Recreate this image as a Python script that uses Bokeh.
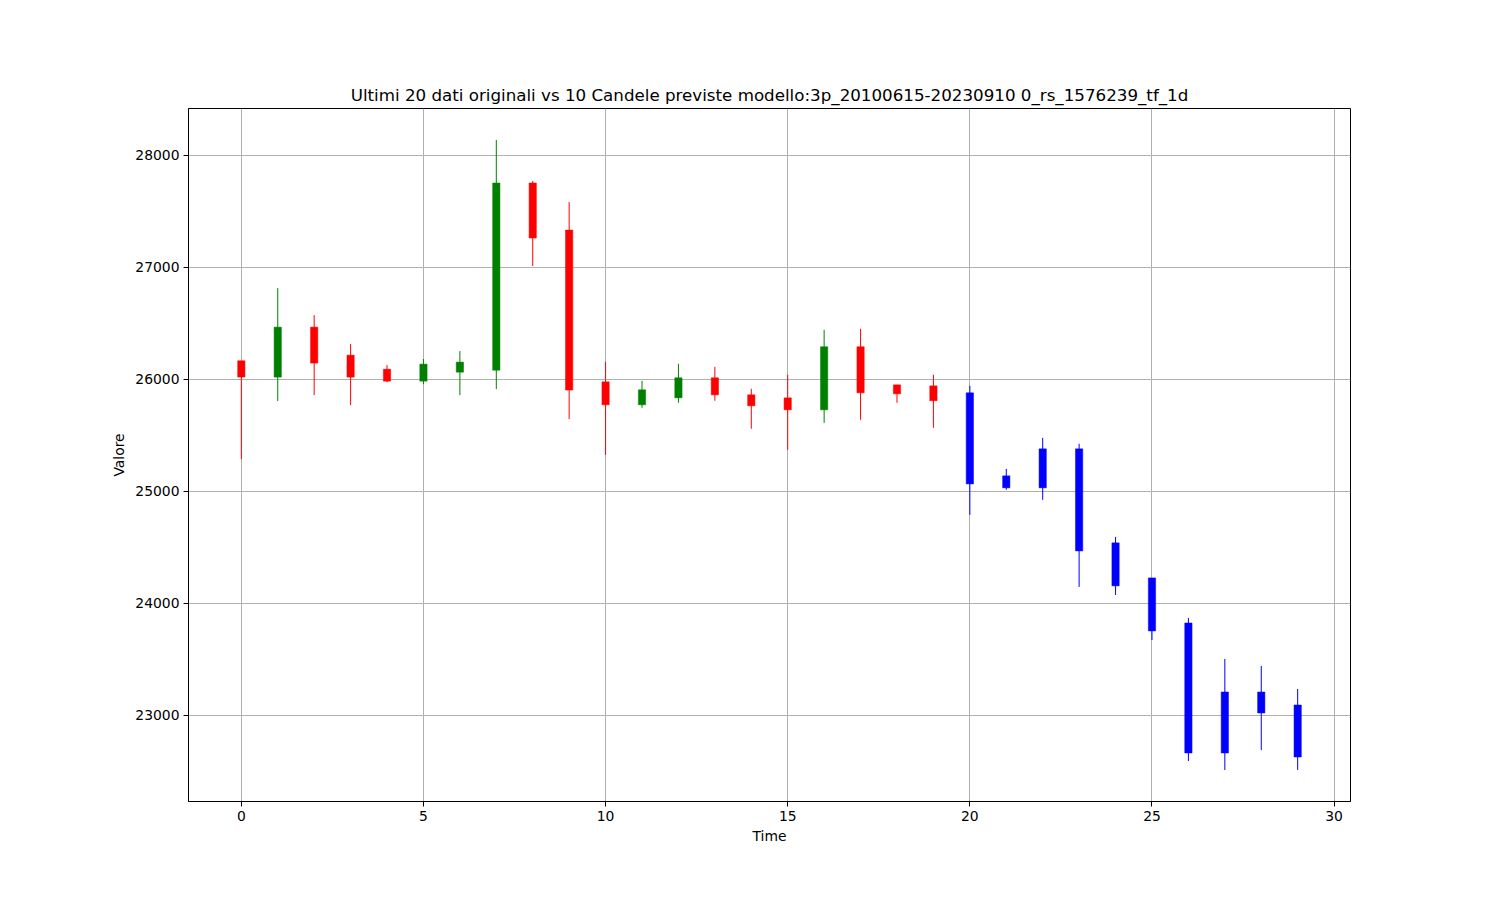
import numpy as np
from bokeh.plotting import figure
from bokeh.models import ColumnDataSource, FixedTicker, Range1d
from bokeh.embed import file_html
from bokeh.resources import INLINE

# ---- data ----
time = list(range(30))
opens = [26164, 26018, 26464, 26214, 26089, 25982, 26062, 26080, 27750, 27330,
         25976, 25771, 25833, 26012, 25860, 25833, 25726, 26289, 25949, 25940,
         25878, 25137, 25378, 25378, 24539, 24226, 23824, 23208, 23208, 23092]
closes = [26018, 26464, 26143, 26018, 25982, 26134, 26152, 27750, 27259, 25902,
          25771, 25905, 26012, 25860, 25762, 25726, 26289, 25878, 25869, 25807,
          25065, 25030, 25030, 24467, 24155, 23753, 22664, 22664, 23021, 22628]
highs = [26164, 26812, 26571, 26313, 26125, 26179, 26250, 28134, 27768, 27580,
         26155, 25985, 26137, 26110, 25914, 26039, 26440, 26449, 25949, 26039,
         25940, 25199, 25476, 25423, 24592, 24226, 23869, 23503, 23440, 23235]
lows = [25286, 25804, 25857, 25768, 25973, 25955, 25857, 25911, 27009, 25643,
        25324, 25744, 25789, 25807, 25557, 25369, 25610, 25637, 25789, 25565,
        24789, 25012, 24923, 24146, 24074, 23673, 22592, 22512, 22690, 22512]
n_original = 20
x_ticks = [0, 5, 10, 15, 20, 25, 30]
y_ticks = [23000, 24000, 25000, 26000, 27000, 28000]

o = np.array(opens, dtype=float)
c = np.array(closes, dtype=float)
colors = []
for i in range(len(time)):
    if i >= n_original:
        colors.append("blue")
    else:
        colors.append("green" if c[i] >= o[i] else "red")

src = ColumnDataSource(dict(
    x=time, top=np.maximum(o, c), bottom=np.minimum(o, c),
    high=highs, low=lows, color=colors))

p = figure(width=1492, height=892, output_backend="svg", toolbar_location=None,
           x_range=Range1d(-1.45, 30.45), y_range=Range1d(22231, 28415),
           min_border_left=188, min_border_right=142, min_border_top=108,
           min_border_bottom=91,
           title="Ultimi 20 dati originali vs 10 Candele previste modello:3p_20100615-20230910 0_rs_1576239_tf_1d")

p.segment(x0="x", y0="low", x1="x", y1="high", color="color", line_width=1, source=src)
p.vbar(x="x", width=0.2, top="top", bottom="bottom", fill_color="color",
       line_color="color", line_width=0.5, source=src)

p.title.align = "center"
p.title.text_font = "DejaVu Sans"
p.title.text_font_size = "16.7px"
p.title.text_font_style = "normal"
p.title.text_color = "black"
p.title.offset = 0
p.title.standoff = 8

p.outline_line_color = "black"
p.outline_line_width = 1
p.outline_line_alpha = 1

for ax in (p.xaxis[0], p.yaxis[0]):
    ax.axis_label_text_font = "DejaVu Sans"
    ax.axis_label_text_font_size = "13.9px"
    ax.axis_label_text_font_style = "normal"
    ax.axis_label_text_color = "black"
    ax.major_label_text_font = "DejaVu Sans"
    ax.major_label_text_font_size = "13.9px"
    ax.major_label_text_color = "black"
    ax.major_tick_out = 5
    ax.major_tick_in = 0
    ax.minor_tick_line_color = None
    ax.axis_line_color = "black"
    ax.major_tick_line_color = "black"
    ax.major_label_standoff = 4

p.xaxis.axis_label = "Time"
p.yaxis.axis_label = "Valore"
p.xaxis.ticker = FixedTicker(ticks=x_ticks)
p.yaxis.ticker = FixedTicker(ticks=y_ticks)
p.yaxis.major_label_orientation = "horizontal"
p.xaxis.axis_label_standoff = 4
p.yaxis.axis_label_standoff = 5

p.grid.grid_line_color = "#b0b0b0"
p.grid.grid_line_width = 1
p.background_fill_color = "white"
p.border_fill_color = "white"

open("out.html", "w").write(file_html(p, INLINE))
